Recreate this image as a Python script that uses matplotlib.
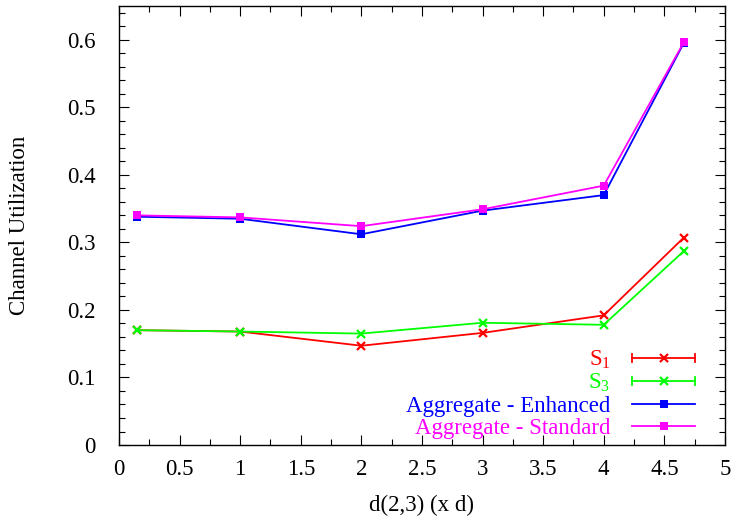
import matplotlib
matplotlib.use("Agg")
import matplotlib.pyplot as plt
from matplotlib.legend_handler import HandlerBase
from matplotlib.lines import Line2D
from matplotlib.ticker import MultipleLocator

plt.rcParams['font.family'] = ['Liberation Serif', 'DejaVu Serif']
plt.rcParams['mathtext.fontset'] = 'custom'
plt.rcParams['mathtext.rm'] = 'Liberation Serif'
plt.rcParams['mathtext.it'] = 'Liberation Serif:italic'

# Distance d(2,3) in units of d
distance = [0.15, 1, 2, 3, 4, 4.66]

s1 = [0.170, 0.168, 0.147, 0.166, 0.192, 0.307]
s3 = [0.170, 0.168, 0.165, 0.181, 0.178, 0.287]
agg_enhanced = [0.338, 0.335, 0.312, 0.347, 0.370, 0.595]
agg_standard = [0.340, 0.337, 0.324, 0.349, 0.384, 0.596]

labels = [r'$\mathrm{S}_1$', r'$\mathrm{S}_3$',
          'Aggregate - Enhanced', 'Aggregate - Standard']
colors = ['#ff0000', '#00ff00', '#0000ff', '#ff00ff']
markers = ['x', 'x', 's', 's']
series = [s1, s3, agg_enhanced, agg_standard]

FS = 16.5


class CappedSample(HandlerBase):
    """Key sample: a horizontal bar, optionally with end caps, and a marker in the middle."""

    def __init__(self, caps, **kw):
        super().__init__(**kw)
        self.caps = caps

    def create_artists(self, legend, orig_handle, xdescent, ydescent,
                       width, height, fontsize, trans):
        y = height / 2 - ydescent
        x0, x1 = -xdescent, width - xdescent
        color = orig_handle.get_color()
        lw = orig_handle.get_linewidth()
        arts = [Line2D([x0, x1], [y, y], color=color, lw=lw)]
        if self.caps:
            cap = height * 0.25
            arts.append(Line2D([x0, x0], [y - cap, y + cap], color=color, lw=lw))
            arts.append(Line2D([x1, x1], [y - cap, y + cap], color=color, lw=lw))
        arts.append(Line2D([(x0 + x1) / 2], [y], color=color, lw=0,
                           marker=orig_handle.get_marker(),
                           markersize=orig_handle.get_markersize(),
                           markeredgewidth=orig_handle.get_markeredgewidth()))
        for a in arts:
            a.set_transform(trans)
        return arts


fig = plt.figure(figsize=(7.33, 5.2), dpi=100)
ax = fig.add_axes([0.1623, 0.1442, 0.8267, 0.8443])

handles = []
for ys, c, m in zip(series, colors, markers):
    if m == 'x':
        h, = ax.plot(distance, ys, color=c, lw=1.3, marker='x',
                     markersize=6, markeredgewidth=1.6, zorder=3)
    else:
        h, = ax.plot(distance, ys, color=c, lw=1.3, marker='s',
                     markersize=6, markeredgewidth=0, zorder=3)
    handles.append(h)

ax.set_xlim(0, 5)
ax.set_ylim(0, 0.65)
ax.xaxis.set_minor_locator(MultipleLocator(0.25))
ax.yaxis.set_minor_locator(MultipleLocator(0.02))
ax.set_xticks([0, 0.5, 1, 1.5, 2, 2.5, 3, 3.5, 4, 4.5, 5])
ax.set_xticklabels(['0', '0.5', '1', '1.5', '2', '2.5', '3', '3.5', '4', '4.5', '5'])
ax.set_yticks([0, 0.1, 0.2, 0.3, 0.4, 0.5, 0.6])
ax.set_yticklabels(['0', '0.1', '0.2', '0.3', '0.4', '0.5', '0.6'])
ax.tick_params(which='both', direction='in', top=True, right=True,
               labelsize=FS, color='black', width=0.8)
ax.tick_params(which='major', length=7)
ax.tick_params(which='minor', length=4)
ax.tick_params(axis='x', which='major', pad=10)
ax.tick_params(axis='y', which='major', pad=17)
for sp in ax.spines.values():
    sp.set_linewidth(1.0)

ax.set_xlabel('d(2,3) (x d)', fontsize=FS)
ax.set_ylabel('Channel Utilization', fontsize=FS)
ax.xaxis.set_label_coords(0.5, -0.114)
ax.yaxis.set_label_coords(-0.147, 0.5)

leg = ax.legend(handles, labels, loc='lower right',
                bbox_to_anchor=(0.97, -0.012), frameon=False,
                markerfirst=False, fontsize=FS, handlelength=2.75,
                handletextpad=0.95, labelspacing=0.05, borderpad=0,
                handler_map={handles[0]: CappedSample(True),
                             handles[1]: CappedSample(True),
                             handles[2]: CappedSample(False),
                             handles[3]: CappedSample(False)})
for txt, c in zip(leg.get_texts(), colors):
    txt.set_color(c)

fig.savefig('out.png', dpi=100)
